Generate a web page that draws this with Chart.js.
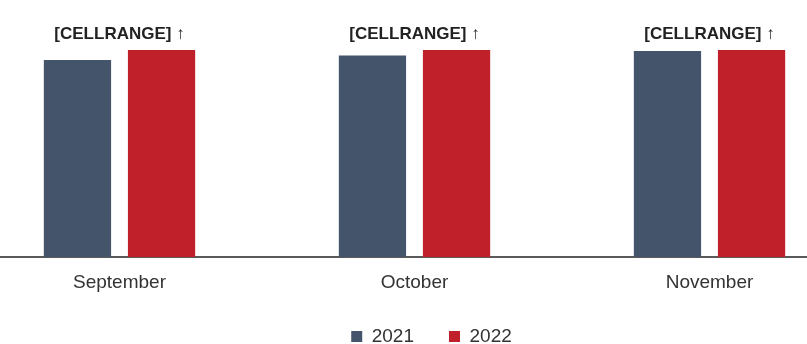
<!DOCTYPE html>
<html>
<head>
<meta charset="utf-8">
<script src="https://cdn.jsdelivr.net/npm/chart.js@4"></script>
<style>
  html, body { margin: 0; padding: 0; background: #fff; overflow: hidden; width: 807px; height: 344px; }
  #wrap { position: absolute; left: -28px; top: 0; width: 885px; height: 356px; }
</style>
</head>
<body>
<div id="wrap"><canvas id="chart"></canvas></div>
<script>
const months = ['September', 'October', 'November'];
const series2021 = [95.2, 97.3, 99.5];
const series2022 = [100, 100, 100];
const topLabels = ['[CELLRANGE] \u2191', '[CELLRANGE] \u2191', '[CELLRANGE] \u2191'];

// etiketkalar guruh ustida
const groupLabels = {
    id: 'groupLabels',
    afterDatasetsDraw(chart) {
        const ctx = chart.ctx;
        const x = chart.scales.x;
        ctx.save();
        ctx.font = 'bold 17px "Liberation Sans", Arial, sans-serif';
        ctx.fillStyle = '#222';
        ctx.textAlign = 'center';
        ctx.textBaseline = 'middle';
        topLabels.forEach((t, i) => {
            let top = Infinity;
            chart.data.datasets.forEach((d, j) => {
                const bar = chart.getDatasetMeta(j).data[i];
                top = Math.min(top, bar.y);
            });
            ctx.fillText(t, x.getPixelForValue(i), top - 16);
        });
        ctx.restore();
    }
};

// legendani biroz o'ngga surish
const legendShift = {
    id: 'legendShift',
    afterLayout(chart) {
        chart.legend.left += 17;
        chart.legend.right += 17;
    }
};

new Chart(document.getElementById('chart'), {
    type: 'bar',
    data: {
        labels: months,
        datasets: [
            { label: '2021', data: series2021, backgroundColor: '#44546A', borderWidth: 0 },
            { label: '2022', data: series2022, backgroundColor: '#C0202A', borderWidth: 0 }
        ]
    },
    options: {
        responsive: true,
        maintainAspectRatio: false,
        animation: false,
        categoryPercentage: 0.57,
        barPercentage: 0.8,
        layout: { padding: { top: 50 } },
        plugins: {
            tooltip: { enabled: false },
            legend: {
                position: 'bottom',
                labels: {
                    boxWidth: 11,
                    boxHeight: 11,
                    padding: 35,
                    color: '#333',
                    font: { size: 19, family: '"Liberation Sans", Arial, sans-serif' }
                }
            }
        },
        scales: {
            x: {
                grid: { display: false },
                border: { display: true, color: '#5a5a5a', width: 2 },
                ticks: {
                    padding: 6,
                    color: '#333',
                    font: { size: 19, family: '"Liberation Sans", Arial, sans-serif' }
                },
                afterFit(scale) { scale.height = 35; }
            },
            y: { display: false, min: 0, max: 100 }
        }
    },
    plugins: [groupLabels, legendShift]
});
</script>
</body>
</html>
